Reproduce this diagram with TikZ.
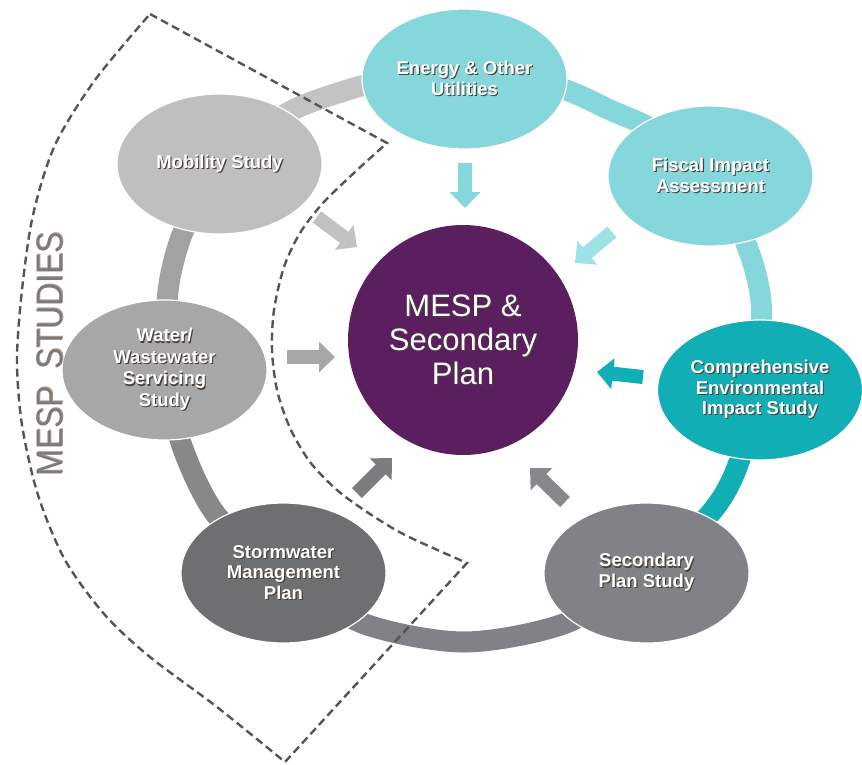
\documentclass[tikz,border=0pt]{standalone}
\usepackage{fontspec}
\usepackage{graphicx}
\setmainfont{Liberation Sans}
\usetikzlibrary{shapes.geometric,arrows.meta}

\definecolor{tealLight}{HTML}{86D7DC}
\definecolor{tealPale}{HTML}{9EE2E6}
\definecolor{tealDark}{HTML}{12AEB5}
\definecolor{greyMob}{HTML}{BFBFBF}
\definecolor{greyWater}{HTML}{A7A7A7}
\definecolor{greyStorm}{HTML}{6E6F71}
\definecolor{greySec}{HTML}{808285}
\definecolor{ringMob}{HTML}{C3C3C3}
\definecolor{ringWater}{HTML}{A2A2A2}
\definecolor{ringStorm}{HTML}{888888}
\definecolor{plum}{HTML}{5B1F5F}
\definecolor{dashgrey}{HTML}{555555}
\definecolor{labelgrey}{HTML}{7A7A7A}
\definecolor{embshade}{HTML}{4A4038}
\definecolor{sideshade}{HTML}{B09A88}

% white lettering with a small dark drop shadow
\newcommand\emb[1]{\makebox[0pt][l]{\hspace{1.1pt}\raisebox{-1.1pt}{\textcolor{embshade}{#1}}}#1}
% grey lettering with a soft warm shadow
\newcommand\sidelabel[1]{\makebox[0pt][l]{\hspace{1.2pt}\raisebox{-1.2pt}{\textcolor{sideshade}{#1}}}#1}

\tikzset{
  study/.style={ellipse, minimum width=205pt, minimum height=140pt, inner sep=0pt,
    draw=white, line width=1.2pt, text=white, align=center,
    font=\bfseries\fontsize{18.5pt}{20.5pt}\selectfont},
  hub/.style={circle, minimum size=230pt, inner sep=0pt, fill=plum, text=white,
    align=center, font=\fontsize{31pt}{34pt}\selectfont},
  ringseg/.style={line width=21pt, line cap=butt},
  inflow/.style={line width=14pt, -{Triangle[width=30pt,length=16pt]}},
  outline/.style={draw=dashgrey, line width=2.4pt, dash pattern=on 8pt off 4.5pt, line join=miter},
}

\begin{document}
\begin{tikzpicture}[x=1pt,y=-1pt]
\useasboundingbox (0,0) rectangle (862,764);

% study positions around the ring
\coordinate (pMob)    at (219.5,164);
\coordinate (pEnergy) at (464.5,79);
\coordinate (pFiscal) at (710.5,176);
\coordinate (pEnv)    at (760,390);
\coordinate (pSec)    at (646.5,573);
\coordinate (pStorm)  at (283.5,573);
\coordinate (pWater)  at (164.5,370);

% ring segments between neighbouring studies
\draw[ringseg, ringMob]   plot[smooth] coordinates {(pMob) (255,134) (299,107) (365,85) (417,77) (pEnergy)};
\draw[ringseg, tealLight] plot[smooth] coordinates {(pEnergy) (511,77) (566,90) (610,110) (655,131) (pFiscal)};
\draw[ringseg, tealLight] plot[smooth] coordinates {(pFiscal) (745,241) (761,301) (pEnv)};
\draw[ringseg, tealDark]  plot[smooth] coordinates {(pEnv) (736,470) (709,515) (pSec)};
\draw[ringseg, greySec]   plot[smooth] coordinates {(pSec) (566,623) (464,642) (362,623) (pStorm)};
\draw[ringseg, ringStorm] plot[smooth] coordinates {(pStorm) (217,516) (182,446) (pWater)};
\draw[ringseg, ringWater] plot[smooth] coordinates {(pWater) (168,291) (180,240) (202,192) (pMob)};

% the studies
\node[study, fill=greyMob]   (mob)    at (pMob)    {\emb{Mobility Study}};
\node[study, fill=tealLight] (energy) at (pEnergy) {\emb{Energy \& Other}\\\emb{Utilities}};
\node[study, fill=tealLight] (fiscal) at (pFiscal) {\emb{Fiscal Impact}\\\emb{Assessment}};
\node[study, fill=tealDark]  (env)    at (pEnv)    {\emb{Comprehensive}\\\emb{Environmental}\\\emb{Impact Study}};
\node[study, fill=greySec]   (sec)    at (pSec)    {\emb{Secondary}\\\emb{Plan Study}};
\node[study, fill=greyStorm] (storm)  at (pStorm)  {\emb{Stormwater}\\\emb{Management}\\\emb{Plan}};
\node[study, fill=greyWater, font=\bfseries\fontsize{18.5pt}{21.5pt}\selectfont] (water) at (pWater)
  {\emb{Water/}\\\emb{Wastewater}\\\emb{Servicing}\\\emb{Study}};

% central plan
\node[hub] (plan) at (463,340) {\emb{MESP \&}\\\emb{Secondary}\\\emb{Plan}};

% inflow arrows towards the plan
\coordinate (aEnergyT) at (465,163); \coordinate (aEnergyH) at (465,208);
\coordinate (aFiscalT) at (612,232); \coordinate (aFiscalH) at (575,263);
\coordinate (aEnvT)    at (643,377); \coordinate (aEnvH)    at (597,372);
\coordinate (aSecT)    at (565,502); \coordinate (aSecH)    at (530,468);
\coordinate (aStormT)  at (357,493); \coordinate (aStormH)  at (392,458);
\coordinate (aWaterT)  at (287,357); \coordinate (aWaterH)  at (335,357);
\coordinate (aMobT)    at (317,217); \coordinate (aMobH)    at (357,247);

\draw[inflow, color=tealLight]    (aEnergyT) -- (aEnergyH);
\draw[inflow, color=tealPale]     (aFiscalT) -- (aFiscalH);
\draw[inflow, color=tealDark]     (aEnvT)    -- (aEnvH);
\draw[inflow, color=greySec!95!white] (aSecT) -- (aSecH);
\draw[inflow, color=greyStorm!90!white] (aStormT) -- (aStormH);
\draw[inflow, color=greyWater]    (aWaterT)  -- (aWaterH);
\draw[inflow, color=greyMob!95!white] (aMobT) -- (aMobH);

% dashed sector grouping the MESP studies
\draw[outline] (150,14) -- (387,143)
  -- plot[smooth] coordinates {(387,143) (355,172) (323,203) (300,233) (284,267) (274,310)
     (272,350) (277,390) (290,428) (310,462) (337,490) (367,512) (405,535) (467,563)}
  -- (285,762)
  -- plot[smooth] coordinates {(285,762) (217,707) (150,657) (105,615) (65,560) (38,495)
     (22,425) (17,360) (22,290) (33,215) (55,145) (95,80) (150,14)}
  -- cycle;

\node[rotate=90, text=labelgrey, inner sep=0pt, font=\fontsize{37pt}{37pt}\selectfont] (side) at (50,354)
  {\scalebox{0.86}[1]{\sidelabel{MESP\hspace{19pt}STUDIES}}};
\end{tikzpicture}
\end{document}
